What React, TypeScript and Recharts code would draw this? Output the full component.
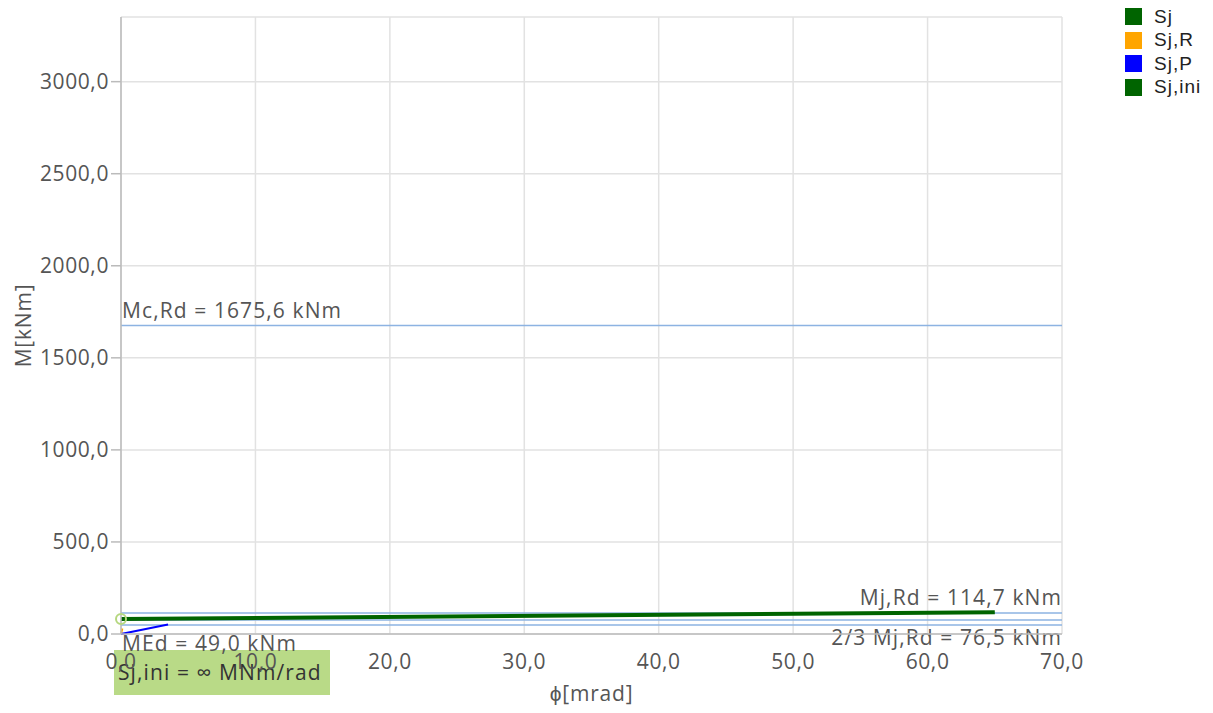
import React from "react";
import {
  ComposedChart,
  Line,
  XAxis,
  YAxis,
  CartesianGrid,
  ReferenceLine,
  ReferenceDot,
  Label,
} from "recharts";

// moment-rotation curves
const sjPoints = [
  { x: 0, y: 82 },
  { x: 65, y: 118 },
];
const sjPPoints = [
  { x: 0, y: 0 },
  { x: 3.5, y: 52 },
];
const sjRPoints = [
  { x: 0, y: 0 },
  { x: 0.1, y: 30 },
];

const xTicks = [0, 10, 20, 30, 40, 50, 60, 70];
const yTicks = [0, 500, 1000, 1500, 2000, 2500, 3000];

const McRd = 1675.6;
const MjRd = 114.7;
const MjRd23 = 76.5;
const MEd = 49.0;

const legendItems = [
  { name: "Sj", color: "#006400" },
  { name: "Sj,R", color: "#FFA500" },
  { name: "Sj,P", color: "#0000FF" },
  { name: "Sj,ini", color: "#006400" },
];

const FONT = "'Open Sans', sans-serif";
const TEXT = "#555555";
const REF = "#8DB3E2";

const fmt = (v: number) => v.toFixed(1).replace(".", ",");

const refLabel =
  (text: string, side: "left" | "right", dy: number) => (props: any) => {
    const vb = props.viewBox || {};
    const x = side === "left" ? vb.x + 1 : vb.x + vb.width;
    return (
      <text
        x={x}
        y={vb.y + dy}
        textAnchor={side === "left" ? "start" : "end"}
        fontFamily={FONT}
        fontSize={21}
        letterSpacing={1.1}
        fill={TEXT}
      >
        {text}
      </text>
    );
  };

export default function App() {
  return (
    <div style={{ position: "absolute", left: 0, top: 0, width: 1213, height: 713 }}>
      {/* Sj,ini box sits behind the chart so tick texts stay readable */}
      <div
        style={{
          position: "absolute",
          left: 114,
          top: 650,
          width: 216,
          height: 45,
          background: "#B9DA87",
          fontFamily: FONT,
          fontSize: 21,
          letterSpacing: 1.1,
          color: "#333333",
          lineHeight: "45px",
          paddingLeft: 4,
          boxSizing: "border-box",
          whiteSpace: "nowrap",
        }}
      >
        Sj,ini = ∞ MNm/rad
      </div>

      <ComposedChart
        width={1213}
        height={713}
        margin={{ top: 17, right: 151, left: 0, bottom: 0 }}
      >
        <CartesianGrid stroke="#E2E2E2" strokeWidth={1.5} />
        <XAxis
          type="number"
          dataKey="x"
          domain={[0, 70]}
          ticks={xTicks}
          tickFormatter={fmt}
          height={79}
          tickLine={false}
          tickMargin={14}
          stroke="#BBBBBB"
          strokeWidth={1.5}
          tick={{ fill: TEXT, fontSize: 21, fontFamily: FONT, letterSpacing: 0.6 }}
        >
          <Label
            content={(p: any) => (
              <text
                x={p.viewBox.x + p.viewBox.width / 2}
                y={p.viewBox.y + 67}
                textAnchor="middle"
                fontFamily={FONT}
                fontSize={21}
                letterSpacing={0.8}
                fill={TEXT}
              >
                ϕ[mrad]
              </text>
            )}
          />
        </XAxis>
        <YAxis
          type="number"
          domain={[0, 2 * McRd]}
          ticks={yTicks}
          tickFormatter={fmt}
          width={121}
          tickSize={10}
          stroke="#BBBBBB"
          strokeWidth={1.5}
          tick={{ fill: TEXT, fontSize: 21, fontFamily: FONT, letterSpacing: 0.6 }}
        >
          <Label
            content={(p: any) => {
              const cx = p.viewBox.x + 23;
              const cy = p.viewBox.y + p.viewBox.height / 2;
              return (
                <text
                  x={cx}
                  y={cy}
                  transform={`rotate(-90 ${cx} ${cy})`}
                  textAnchor="middle"
                  dominantBaseline="central"
                  fontFamily={FONT}
                  fontSize={21}
                  letterSpacing={0.8}
                  fill={TEXT}
                >
                  M[kNm]
                </text>
              );
            }}
          />
        </YAxis>

        <ReferenceLine y={McRd} stroke={REF} strokeWidth={1.5} label={refLabel("Mc,Rd = 1675,6 kNm", "left", -8)} />
        <ReferenceLine y={MjRd} stroke={REF} strokeWidth={1.5} label={refLabel("Mj,Rd = 114,7 kNm", "right", -8)} />
        <ReferenceLine y={MjRd23} stroke={REF} strokeWidth={1.5} label={refLabel("2/3 Mj,Rd = 76,5 kNm", "right", 25)} />
        <ReferenceLine y={MEd} stroke={REF} strokeWidth={1.5} label={refLabel("MEd = 49,0 kNm", "left", 26)} />

        <Line
          data={sjRPoints}
          dataKey="y"
          stroke="#FFA500"
          strokeWidth={2}
          dot={false}
          isAnimationActive={false}
        />
        <Line
          data={sjPPoints}
          dataKey="y"
          stroke="#0000FF"
          strokeWidth={2}
          dot={false}
          isAnimationActive={false}
        />
        <Line
          data={sjPoints}
          dataKey="y"
          stroke="#006400"
          strokeWidth={4}
          dot={false}
          isAnimationActive={false}
        />
        <ReferenceDot
          x={sjPoints[0].x}
          y={sjPoints[0].y}
          r={5}
          fill="none"
          stroke="#B5D77F"
          strokeWidth={2}
        />
      </ComposedChart>

      <div style={{ position: "absolute", left: 1125, top: 5, fontFamily: "'Liberation Sans', Arial, sans-serif" }}>
        {legendItems.map((it) => (
          <div key={it.name} style={{ display: "flex", alignItems: "center", height: 23.5 }}>
            <span style={{ width: 17, height: 17, background: it.color, display: "inline-block", marginRight: 12 }} />
            <span style={{ fontSize: 19, letterSpacing: 1, color: "#222222" }}>{it.name}</span>
          </div>
        ))}
      </div>
    </div>
  );
}
